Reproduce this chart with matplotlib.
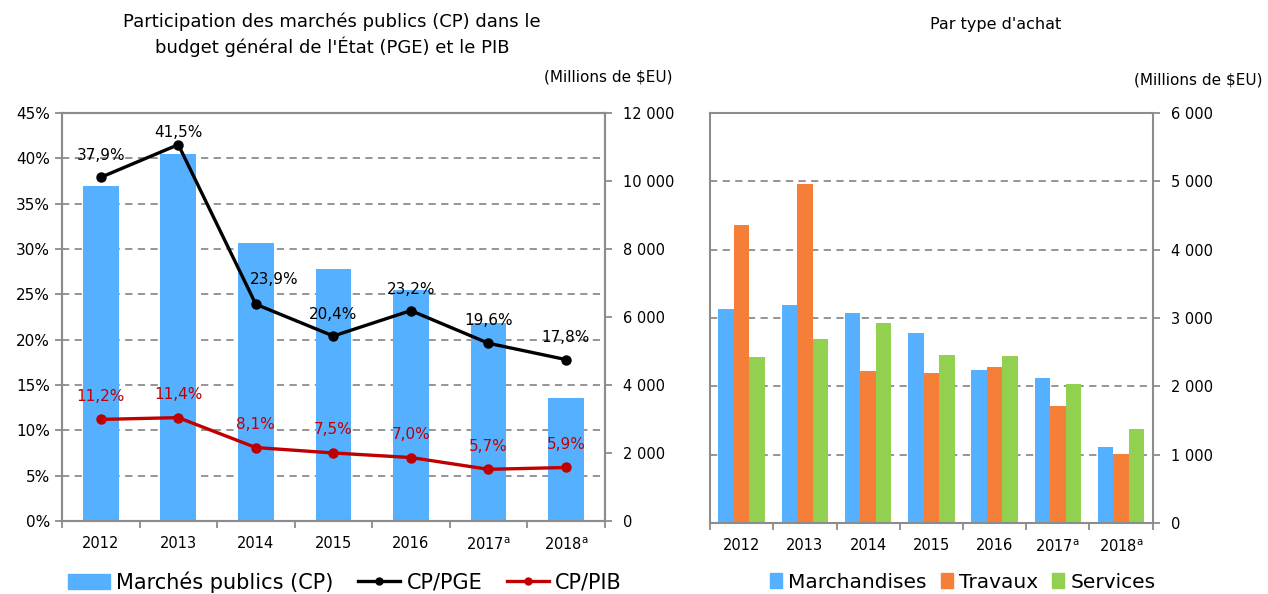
"""Public procurement share chart (left) and breakdown by purchase type (right)."""
import matplotlib
matplotlib.use("Agg")
import matplotlib.pyplot as plt
from matplotlib.ticker import FuncFormatter, MultipleLocator
from matplotlib.lines import Line2D
from matplotlib.patches import Patch
import numpy as np

# --------------------------------------------------------------------------- #
# data
# --------------------------------------------------------------------------- #
years = ["2012", "2013", "2014", "2015", "2016", "2017$^{\\mathrm{a}}$", "2018$^{\\mathrm{a}}$"]
cp_total = [9850, 10800, 8170, 7410, 6800, 5830, 3630]          # millions $EU
cp_pge = [37.9, 41.5, 23.9, 20.4, 23.2, 19.6, 17.8]             # %
cp_pib = [11.2, 11.4, 8.1, 7.5, 7.0, 5.7, 5.9]                  # %

marchandises = [3130, 3190, 3070, 2780, 2240, 2120, 1120]
travaux = [4360, 4960, 2230, 2200, 2290, 1710, 1010]
services = [2430, 2690, 2930, 2460, 2440, 2030, 1380]

BLUE = "#55B0FF"
ORANGE = "#F57E38"
GREEN = "#92D050"
RED = "#C00000"
GRID = "#8C8C8C"
SPINE = "#8C8C8C"
FS = 10.5

plt.rcParams["font.family"] = "DejaVu Sans"

fig = plt.figure(figsize=(12.68, 5.94), dpi=100)

thousands = FuncFormatter(lambda v, p: f"{int(round(v)):,}".replace(",", " "))


def frame(ax):
    for s in ax.spines.values():
        s.set_color(SPINE)
        s.set_linewidth(1.5)


def xcats(ax, n):
    ax.set_xlim(-0.5, n - 0.5)
    ax.set_xticks(range(n))
    ax.set_xticklabels(years, fontsize=FS)
    ax.set_xticks(np.arange(-0.5, n, 1.0), minor=True)
    ax.tick_params(axis="x", which="major", length=0, pad=11)
    ax.tick_params(axis="x", which="minor", length=5, color=SPINE, width=1.3)


# --------------------------------------------------------------------------- #
# left: bars (main axes, carries the % grid) + percentage lines on a twin
# --------------------------------------------------------------------------- #
x = np.arange(len(years))
PCT_MAX, CP_MAX = 45, 12000
axL = fig.add_axes([0.0489, 0.1229, 0.428, 0.687])
axL.bar(x, cp_total, width=0.46, color=BLUE, zorder=2)
axL.set_ylim(0, CP_MAX)
pct_ticks = np.arange(0, PCT_MAX + 1, 5)
axL.set_yticks(pct_ticks * CP_MAX / PCT_MAX)
axL.set_yticklabels([f"{p}%" for p in pct_ticks])
axL.tick_params(axis="y", labelsize=11, length=5, color=SPINE, width=1.3)
axL.grid(axis="y", color=GRID, linestyle=(0, (4, 3)), linewidth=1.3, zorder=0)
axL.set_axisbelow(True)
frame(axL)
xcats(axL, len(years))

axR = axL.twinx()
axR.set_ylim(0, CP_MAX)
axR.yaxis.set_major_locator(MultipleLocator(2000))
axR.yaxis.set_major_formatter(thousands)
axR.tick_params(axis="y", labelsize=FS, length=5, color=SPINE, width=1.3, pad=8)
frame(axR)

axT = axL.twinx()
axT.set_ylim(0, PCT_MAX)
axT.axis("off")
axT.plot(x, cp_pge, color="black", lw=2.4, marker="o", ms=6.5, zorder=3)
axT.plot(x, cp_pib, color=RED, lw=2.4, marker="o", ms=6.5, zorder=3)

pge_off = [(0, 22), (0, 12), (18, 25), (0, 22), (0, 21), (0, 23), (0, 22)]
for xi, v, off in zip(x, cp_pge, pge_off):
    axT.annotate(f"{v:.1f}%".replace(".", ","), (xi, v), xytext=off,
                 textcoords="offset pixels", ha="center", va="center",
                 fontsize=11, color="black")
for xi, v in zip(x, cp_pib):
    axT.annotate(f"{v:.1f}%".replace(".", ","), (xi, v), xytext=(0, 23),
                 textcoords="offset pixels", ha="center", va="center",
                 fontsize=11, color=RED)

fig.text(332 / 1268, 1 - 35 / 594,
         "Participation des marchés publics (CP) dans le\nbudget général de l'État (PGE) et le PIB",
         ha="center", va="center", fontsize=13, linespacing=1.35)
fig.text(672 / 1268, 1 - 77 / 594, "(Millions de $EU)", ha="right", va="center", fontsize=11)

fig.legend(handles=[Patch(color=BLUE, label="Marchés publics (CP)"),
                    Line2D([], [], color="black", lw=2.4, marker="o", ms=5, label="CP/PGE"),
                    Line2D([], [], color=RED, lw=2.4, marker="o", ms=5, label="CP/PIB")],
           loc="center", bbox_to_anchor=(345 / 1268, 1 - 582 / 594), ncol=3,
           frameon=False, fontsize=15, handlelength=2.0, handletextpad=0.3,
           columnspacing=1.2, borderaxespad=0)

# --------------------------------------------------------------------------- #
# right: grouped bars by purchase type
# --------------------------------------------------------------------------- #
ax2 = fig.add_axes([0.56, 0.1195, 0.349, 0.690])
w = 0.245
ax2.bar(x - w, marchandises, width=w, color=BLUE, label="Marchandises")
ax2.bar(x, travaux, width=w, color=ORANGE, label="Travaux")
ax2.bar(x + w, services, width=w, color=GREEN, label="Services")
ax2.set_ylim(0, 6000)
ax2.yaxis.set_major_locator(MultipleLocator(1000))
ax2.yaxis.set_major_formatter(thousands)
ax2.yaxis.tick_right()
ax2.tick_params(axis="y", labelsize=FS, length=5, color=SPINE, width=1.3, pad=8)
ax2.grid(axis="y", color=GRID, linestyle=(0, (4, 3)), linewidth=1.3)
ax2.set_axisbelow(True)
frame(ax2)
xcats(ax2, len(years))

fig.text(996 / 1268, 1 - 25 / 594, "Par type d'achat", ha="center", va="center", fontsize=11.5)
fig.text(1262 / 1268, 1 - 80 / 594, "(Millions de $EU)", ha="right", va="center", fontsize=11)

fig.legend(handles=[Patch(color=BLUE, label="Marchandises"),
                    Patch(color=ORANGE, label="Travaux"),
                    Patch(color=GREEN, label="Services")],
           loc="center", bbox_to_anchor=(963 / 1268, 1 - 582 / 594), ncol=3,
           frameon=False, fontsize=14.5, handlelength=0.6, handleheight=0.8,
           handletextpad=0.3, columnspacing=0.7, borderaxespad=0)

fig.savefig("out.png", dpi=100)
